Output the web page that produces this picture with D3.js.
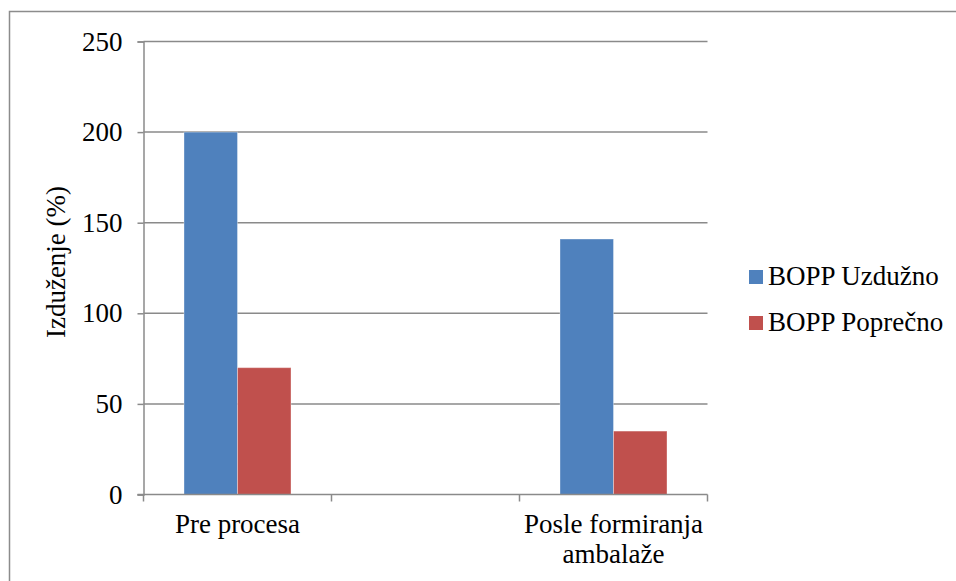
<!DOCTYPE html>
<html>
<head>
<meta charset="utf-8">
<script src="https://cdn.jsdelivr.net/npm/d3@7"></script>
<style>
  html, body { margin: 0; padding: 0; background: #fff; }
  svg { display: block; }
</style>
</head>
<body>
<svg id="chart" width="956" height="581" font-family="'Liberation Serif', 'Times New Roman', Times, serif"></svg>
<script>
const categories = ["Pre procesa", "", "Posle formiranja ambalaže"];
const categoryLines = [["Pre procesa"], [""], ["Posle formiranja", "ambalaže"]];
const seriesNames = ["BOPP Uzdužno", "BOPP Poprečno"];
const uzduzno = [200, null, 141];
const poprecno = [70, null, 35];
const yTicks = [0, 50, 100, 150, 200, 250];
const yTitle = "Izduženje (%)";
const colors = ["#4F81BD", "#C0504D"];

const FONT = "'Liberation Serif', 'Times New Roman', Times, serif";
const FS = 27;
const svg = d3.select("#chart");
const W = 956, H = 581;
const plot = { left: 143.5, right: 707.5, top: 41.5, bottom: 494.5 };

// outer frame
svg.append("rect").attr("x", 9.5).attr("y", 11.5).attr("width", W + 10).attr("height", H + 10)
  .attr("fill", "#fff").attr("stroke", "#8c8c8c").attr("stroke-width", 1.5);

const x0 = d3.scaleBand().domain(categories).range([plot.left, plot.right]).padding(0);
const x1 = d3.scaleBand().domain(seriesNames).range([0, x0.bandwidth()]).paddingInner(0).paddingOuter(0.757);
const y = d3.scaleLinear().domain([0, 250]).range([plot.bottom, plot.top]);

// gridlines
svg.append("g").selectAll("line").data(yTicks.filter(d => d > 0)).join("line")
  .attr("x1", plot.left).attr("x2", plot.right)
  .attr("y1", d => y(d)).attr("y2", d => y(d))
  .attr("stroke", "#8a8a8a").attr("stroke-width", 1.5);

// bars
const seriesVals = [uzduzno, poprecno];
const rows = [];
categories.forEach((c, i) => {
  seriesNames.forEach((s, j) => {
    if (seriesVals[j][i] != null) rows.push({ c, s, v: seriesVals[j][i], j });
  });
});
svg.append("g").selectAll("rect").data(rows).join("rect")
  .attr("x", d => x0(d.c) + x1(d.s))
  .attr("y", d => y(d.v))
  .attr("width", x1.bandwidth())
  .attr("height", d => y(0) - y(d.v))
  .attr("fill", d => colors[d.j])
  .attr("stroke", "rgba(255,255,255,0.35)").attr("stroke-width", 1);

// y axis
const yAxis = d3.axisLeft(y).tickValues(yTicks).tickSize(6).tickPadding(15).tickFormat(d3.format("d"));
const gy = svg.append("g").attr("transform", `translate(${plot.left},0)`).call(yAxis)
  .attr("font-family", FONT).attr("font-size", FS);
gy.select(".domain").attr("stroke", "#8a8a8a").attr("stroke-width", 1.5);
gy.selectAll(".tick line").attr("stroke", "#8a8a8a").attr("stroke-width", 1.5);
gy.selectAll(".tick text").attr("fill", "#000");

// x axis
const xAxis = d3.axisBottom(x0).tickSize(0).tickFormat(() => "");
const gx = svg.append("g").attr("transform", `translate(0,${plot.bottom})`).call(xAxis);
gx.select(".domain").remove();
svg.append("line").attr("x1", plot.left - 6).attr("x2", plot.right)
  .attr("y1", plot.bottom).attr("y2", plot.bottom)
  .attr("stroke", "#8a8a8a").attr("stroke-width", 1.5);
const bounds = categories.map(c => x0(c)).concat([x0(categories[categories.length - 1]) + x0.bandwidth()]);
svg.append("g").selectAll("line").data(bounds).join("line")
  .attr("x1", d => d).attr("x2", d => d)
  .attr("y1", plot.bottom).attr("y2", plot.bottom + 7)
  .attr("stroke", "#8a8a8a").attr("stroke-width", 1.5);
const labG = svg.append("g").attr("font-family", FONT).attr("font-size", FS);
categories.forEach((c, i) => {
  const cx = x0(c) + x0.bandwidth() / 2;
  const t = labG.append("text").attr("text-anchor", "middle").attr("x", cx).attr("y", 533);
  categoryLines[i].forEach((ln, k) => {
    t.append("tspan").attr("x", cx).attr("dy", k === 0 ? 0 : 30).text(ln);
  });
});

// y title
svg.append("text").attr("transform", "translate(65,262) rotate(-90)")
  .attr("font-family", FONT).attr("font-size", FS)
  .attr("text-anchor", "middle").text(yTitle);

// legend
const lg = svg.append("g").attr("font-family", FONT).attr("font-size", FS);
seriesNames.forEach((s, i) => {
  lg.append("rect").attr("x", 749).attr("y", 270 + i * 46).attr("width", 14).attr("height", 14).attr("fill", colors[i]);
  lg.append("text").attr("x", 768).attr("y", 285 + i * 46).text(s);
});
</script>
</body>
</html>
